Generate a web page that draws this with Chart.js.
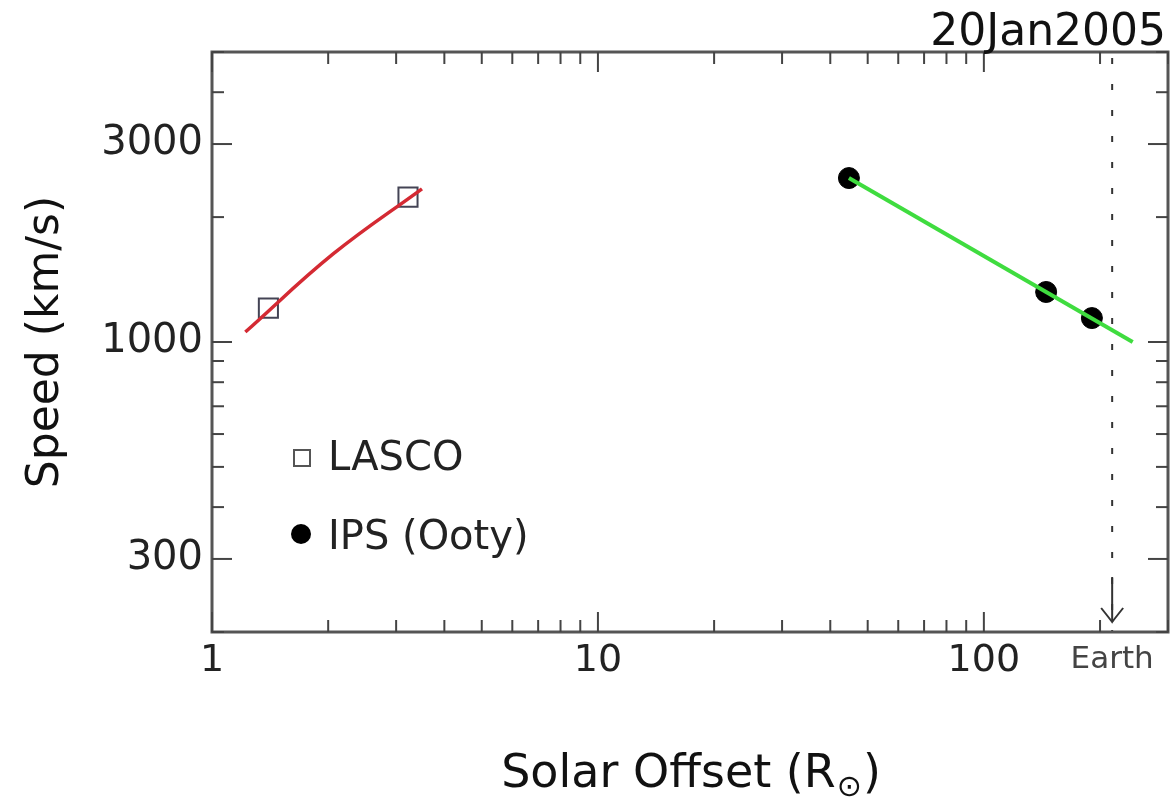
<!DOCTYPE html>
<html><head><meta charset="utf-8">
<script src="https://cdn.jsdelivr.net/npm/chart.js@4/dist/chart.umd.min.js"></script>
<style>html,body{margin:0;padding:0;background:#fff}#wrap{width:1176px;height:804px}</style>
</head><body><div id="wrap"><canvas id="c" width="1176" height="804"></canvas></div>
<script>
// ---- data ----
const lascoX = [1.40, 3.22];
const lascoY = [1207, 2234];
const ipsX = [44.7, 145, 190.5];
const ipsY = [2484, 1320, 1142];
const lascoFitX = [1.22, 2.06, 3.50];
const lascoFitY = [1057, 1630, 2340];
const ipsFitX = [44.7, 243];
const ipsFitY = [2484, 1000];
const earthX = 215;
const xTickLabels = [1, 10, 100];
const yTickLabels = [300, 1000, 3000];
const xMinorTicks = [2,3,4,5,6,7,8,9,20,30,40,50,60,70,80,90,200,300];
const yMinorTicks = [200,400,500,600,700,800,900,2000,4000,5000];
const xRange = [1, 300];
const yRange = [200, 5000];
const titleText = '20Jan2005';
const seriesNames = ['LASCO', 'IPS (Ooty)'];

const pts = (xs, ys) => xs.map((v, i) => ({x: v, y: ys[i]}));
const FONT = "'DejaVu Sans'";

const overlay = {
  id: 'overlay',
  beforeDatasetsDraw(chart) {
    const {ctx, chartArea: a, scales: {x, y}} = chart;
    ctx.save();
    const line = (x1, y1, x2, y2) => { ctx.beginPath(); ctx.moveTo(x1, y1); ctx.lineTo(x2, y2); ctx.stroke(); };
    // Earth dashed line
    const ex = x.getPixelForValue(earthX);
    ctx.strokeStyle = '#333'; ctx.lineWidth = 2;
    ctx.setLineDash([6, 20]); ctx.lineDashOffset = -6;
    line(ex, a.top, ex, a.bottom);
    ctx.setLineDash([]);
    // arrow
    line(ex, a.bottom - 55, ex, a.bottom - 10);
    ctx.beginPath();
    ctx.moveTo(ex - 11, a.bottom - 24);
    ctx.quadraticCurveTo(ex - 3, a.bottom - 14, ex, a.bottom - 10);
    ctx.quadraticCurveTo(ex + 3, a.bottom - 14, ex + 11, a.bottom - 24);
    ctx.stroke();
    ctx.restore();
  },
  afterDraw(chart) {
    const {ctx, chartArea: a, scales: {x, y}} = chart;
    ctx.save();
    const line = (x1, y1, x2, y2) => { ctx.beginPath(); ctx.moveTo(x1, y1); ctx.lineTo(x2, y2); ctx.stroke(); };
    // frame
    ctx.strokeStyle = '#555'; ctx.lineWidth = 3;
    ctx.strokeRect(a.left, a.top, a.right - a.left, a.bottom - a.top);
    // ticks
    ctx.strokeStyle = '#444'; ctx.lineWidth = 2;
    const xt = (v, len) => { const p = x.getPixelForValue(v); line(p, a.bottom, p, a.bottom - len); line(p, a.top, p, a.top + len); };
    const yt = (v, len) => { const p = y.getPixelForValue(v); line(a.left, p, a.left + len, p); line(a.right, p, a.right - len, p); };
    xTickLabels.forEach(v => xt(v, 20));
    xMinorTicks.forEach(v => xt(v, 12));
    yTickLabels.forEach(v => yt(v, 20));
    yMinorTicks.forEach(v => yt(v, 12));
    // Earth label
    const ex = x.getPixelForValue(earthX);
    ctx.fillStyle = '#444';
    ctx.font = `31px ${FONT}`;
    ctx.textAlign = 'center'; ctx.textBaseline = 'alphabetic';
    ctx.fillText('Earth', ex, 668);
    // title
    ctx.fillStyle = '#111';
    ctx.font = `44px ${FONT}`;
    ctx.textAlign = 'right';
    ctx.fillText(titleText, 1166, 45);
    // x title with subscript
    ctx.textAlign = 'left';
    const main = 'Solar Offset (R', sub = '\u2299', end = ')';
    ctx.font = `46px ${FONT}`;
    const w1 = ctx.measureText(main).width, w3 = ctx.measureText(end).width;
    ctx.font = `30px ${FONT}`;
    const w2 = ctx.measureText(sub).width;
    let sx = (a.left + a.right) / 2 - (w1 + w2 + w3) / 2;
    const by = 787;
    ctx.font = `46px ${FONT}`; ctx.fillText(main, sx, by); sx += w1;
    ctx.font = `30px ${FONT}`; ctx.fillText(sub, sx + 1, by + 9); sx += w2 + 2;
    ctx.font = `46px ${FONT}`; ctx.fillText(end, sx, by);
    // y title
    ctx.save();
    ctx.translate(47, (a.top + a.bottom) / 2);
    ctx.rotate(-Math.PI / 2);
    ctx.textAlign = 'center'; ctx.textBaseline = 'middle';
    ctx.font = `44px ${FONT}`;
    ctx.fillText('Speed (km/s)', 0, 0);
    ctx.restore();
    // legend
    ctx.strokeStyle = '#555'; ctx.lineWidth = 2;
    ctx.strokeRect(294, 450, 16, 16);
    ctx.fillStyle = '#000';
    ctx.beginPath(); ctx.arc(301, 534, 10, 0, Math.PI * 2); ctx.fill();
    ctx.fillStyle = '#222';
    ctx.font = `40px ${FONT}`;
    ctx.textAlign = 'left'; ctx.textBaseline = 'alphabetic';
    ctx.fillText(seriesNames[0], 328, 470);
    ctx.fillText(seriesNames[1], 328, 549);
    ctx.restore();
  }
};

new Chart(document.getElementById('c'), {
  type: 'scatter',
  data: {
    datasets: [
      {label: 'LASCO fit', data: pts(lascoFitX, lascoFitY), showLine: true, borderColor: '#d42a33', borderWidth: 3.5, pointRadius: 0, tension: 0.4, fill: false},
      {label: 'IPS fit', data: pts(ipsFitX, ipsFitY), showLine: true, borderColor: '#3fdc3f', borderWidth: 4, pointRadius: 0, fill: false},
      {label: seriesNames[0], data: pts(lascoX, lascoY), pointStyle: 'rect', pointRadius: 13.5, borderColor: '#445', borderWidth: 2, backgroundColor: 'rgba(0,0,0,0)'},
      {label: seriesNames[1], data: pts(ipsX, ipsY), pointStyle: 'circle', pointRadius: 10.5, borderColor: '#000', borderWidth: 1, backgroundColor: '#000'}
    ]
  },
  options: {
    responsive: false, animation: false, devicePixelRatio: 1,
    layout: {autoPadding: false, padding: {top: 52, right: 8, left: 0, bottom: 0}},
    plugins: {legend: {display: false}, tooltip: {enabled: false}, title: {display: false}},
    scales: {
      x: {
        type: 'logarithmic', min: xRange[0], max: xRange[1],
        afterBuildTicks: s => { s.ticks = xTickLabels.map(v => ({value: v})); },
        afterFit: s => { s.height = 172; s.paddingLeft = 0; s.paddingRight = 0; },
        grid: {display: false, drawTicks: false}, border: {display: false},
        ticks: {callback: v => String(v), font: {family: 'DejaVu Sans', size: 38}, color: '#222', padding: 6, autoSkip: false, maxRotation: 0}
      },
      y: {
        type: 'logarithmic', min: yRange[0], max: yRange[1],
        afterBuildTicks: s => { s.ticks = yTickLabels.map(v => ({value: v})); },
        afterFit: s => { s.width = 212; s.paddingTop = 0; s.paddingBottom = 0; },
        grid: {display: false, drawTicks: false}, border: {display: false},
        ticks: {callback: v => String(v), font: {family: 'DejaVu Sans', size: 40}, color: '#222', padding: 9, autoSkip: false}
      }
    }
  },
  plugins: [overlay]
});
</script></body></html>
